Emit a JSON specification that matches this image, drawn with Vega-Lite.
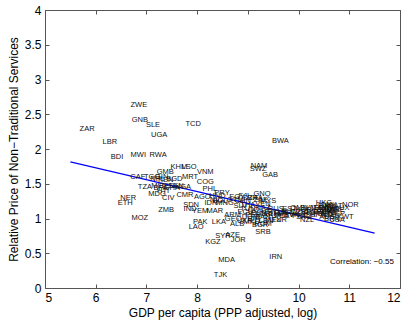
{
  "$schema": "https://vega.github.io/schema/vega-lite/v6.json",
  "width": 355,
  "height": 278,
  "autosize": {"type": "none"},
  "padding": {"left": 45, "top": 10, "right": 8, "bottom": 32},
  "background": "white",
  "config": {
    "view": {"stroke": "#555", "strokeWidth": 1},
    "font": "Liberation Sans",
    "axis": {
      "grid": false,
      "domainColor": "#555",
      "tickColor": "#555",
      "labelColor": "#000",
      "titleColor": "#000",
      "labelFont": "Liberation Sans",
      "titleFont": "Liberation Sans",
      "labelFontSize": 12,
      "titleFontSize": 12,
      "titleFontWeight": "normal",
      "tickSize": -4,
      "labelPadding": 8
    }
  },
  "datasets": {
    "countries": [
      {"iso": "ZWE", "gdp": 6.85, "price": 2.64},
      {"iso": "GNB", "gdp": 6.87, "price": 2.42},
      {"iso": "SLE", "gdp": 7.13, "price": 2.35},
      {"iso": "UGA", "gdp": 7.25, "price": 2.20},
      {"iso": "TCD", "gdp": 7.92, "price": 2.36},
      {"iso": "ZAR", "gdp": 5.83, "price": 2.29},
      {"iso": "LBR", "gdp": 6.28, "price": 2.10},
      {"iso": "BDI", "gdp": 6.42, "price": 1.89},
      {"iso": "MWI", "gdp": 6.84, "price": 1.92},
      {"iso": "RWA", "gdp": 7.23, "price": 1.92},
      {"iso": "BWA", "gdp": 9.64, "price": 2.12},
      {"iso": "NAM", "gdp": 9.22, "price": 1.76},
      {"iso": "SWZ", "gdp": 9.20, "price": 1.71},
      {"iso": "GAB", "gdp": 9.44, "price": 1.62},
      {"iso": "KHM", "gdp": 7.64, "price": 1.74},
      {"iso": "LSO", "gdp": 7.84, "price": 1.74},
      {"iso": "VNM", "gdp": 8.16, "price": 1.67},
      {"iso": "MRT", "gdp": 7.86, "price": 1.60},
      {"iso": "COG", "gdp": 8.16, "price": 1.53},
      {"iso": "GMB", "gdp": 7.37, "price": 1.67},
      {"iso": "CAF", "gdp": 6.83, "price": 1.60},
      {"iso": "TGO", "gdp": 7.11, "price": 1.60},
      {"iso": "GIN", "gdp": 7.30, "price": 1.60},
      {"iso": "NPL", "gdp": 7.22, "price": 1.57},
      {"iso": "KEN", "gdp": 7.38, "price": 1.56},
      {"iso": "BGD", "gdp": 7.55, "price": 1.57},
      {"iso": "TZA", "gdp": 6.97, "price": 1.46},
      {"iso": "MLI", "gdp": 7.22, "price": 1.47},
      {"iso": "BFA", "gdp": 7.28, "price": 1.44},
      {"iso": "BEN", "gdp": 7.40, "price": 1.47},
      {"iso": "HTI", "gdp": 7.33, "price": 1.40},
      {"iso": "GHA", "gdp": 7.50, "price": 1.44},
      {"iso": "SEN", "gdp": 7.58, "price": 1.47},
      {"iso": "NGA", "gdp": 7.72, "price": 1.46},
      {"iso": "MDG", "gdp": 7.21, "price": 1.35},
      {"iso": "CIV", "gdp": 7.43, "price": 1.30},
      {"iso": "CMR", "gdp": 7.76, "price": 1.34},
      {"iso": "AGO", "gdp": 8.10, "price": 1.31},
      {"iso": "NER", "gdp": 6.64, "price": 1.30},
      {"iso": "ETH", "gdp": 6.58, "price": 1.22},
      {"iso": "ZMB", "gdp": 7.39, "price": 1.12},
      {"iso": "MOZ", "gdp": 6.87, "price": 1.01},
      {"iso": "SDN", "gdp": 7.88, "price": 1.20},
      {"iso": "IND", "gdp": 7.86, "price": 1.14},
      {"iso": "YEM", "gdp": 8.06, "price": 1.11},
      {"iso": "MAR", "gdp": 8.35, "price": 1.11},
      {"iso": "IDN", "gdp": 8.27, "price": 1.22},
      {"iso": "PHL", "gdp": 8.25, "price": 1.43},
      {"iso": "BOL", "gdp": 8.45, "price": 1.25},
      {"iso": "PRY", "gdp": 8.49, "price": 1.37},
      {"iso": "HND", "gdp": 8.40, "price": 1.33},
      {"iso": "NIC", "gdp": 8.38, "price": 1.26},
      {"iso": "MNG", "gdp": 8.55, "price": 1.22},
      {"iso": "GTM", "gdp": 8.75, "price": 1.27},
      {"iso": "EGY", "gdp": 8.79, "price": 1.31},
      {"iso": "SLV", "gdp": 8.85, "price": 1.18},
      {"iso": "FJI", "gdp": 8.92, "price": 1.33},
      {"iso": "CHN", "gdp": 8.90, "price": 1.25},
      {"iso": "THA", "gdp": 9.00, "price": 1.20},
      {"iso": "TUN", "gdp": 9.00, "price": 1.14},
      {"iso": "DZA", "gdp": 9.05, "price": 1.30},
      {"iso": "ECU", "gdp": 8.95, "price": 1.09},
      {"iso": "ARM", "gdp": 8.70, "price": 1.05},
      {"iso": "PER", "gdp": 9.10, "price": 1.05},
      {"iso": "COL", "gdp": 9.15, "price": 1.12},
      {"iso": "DOM", "gdp": 9.05, "price": 1.02},
      {"iso": "BIH", "gdp": 9.12, "price": 0.99},
      {"iso": "MKD", "gdp": 9.08, "price": 0.95},
      {"iso": "BRA", "gdp": 9.14, "price": 1.30},
      {"iso": "KAZ", "gdp": 9.30, "price": 1.15},
      {"iso": "VEN", "gdp": 9.30, "price": 1.21},
      {"iso": "BLR", "gdp": 9.22, "price": 1.08},
      {"iso": "ZAF", "gdp": 9.25, "price": 1.26},
      {"iso": "GNQ", "gdp": 9.28, "price": 1.35},
      {"iso": "CRI", "gdp": 9.36, "price": 1.07},
      {"iso": "PAN", "gdp": 9.30, "price": 1.02},
      {"iso": "URY", "gdp": 9.42, "price": 1.10},
      {"iso": "ARG", "gdp": 9.46, "price": 1.05},
      {"iso": "MYS", "gdp": 9.40, "price": 1.25},
      {"iso": "LBN", "gdp": 9.36, "price": 0.97},
      {"iso": "BGR", "gdp": 9.24, "price": 0.90},
      {"iso": "RUS", "gdp": 9.55, "price": 1.13},
      {"iso": "CHL", "gdp": 9.55, "price": 1.07},
      {"iso": "TUR", "gdp": 9.62, "price": 0.98},
      {"iso": "MEX", "gdp": 9.50, "price": 0.98},
      {"iso": "LVA", "gdp": 9.65, "price": 1.08},
      {"iso": "LTU", "gdp": 9.72, "price": 1.10},
      {"iso": "POL", "gdp": 9.68, "price": 1.03},
      {"iso": "HRV", "gdp": 9.76, "price": 1.05},
      {"iso": "HUN", "gdp": 9.82, "price": 1.10},
      {"iso": "SVK", "gdp": 9.86, "price": 1.05},
      {"iso": "EST", "gdp": 9.82, "price": 1.13},
      {"iso": "GEO", "gdp": 8.71, "price": 0.99},
      {"iso": "UKR", "gdp": 8.94, "price": 0.97},
      {"iso": "ALB", "gdp": 8.79, "price": 0.92},
      {"iso": "PAK", "gdp": 8.06, "price": 0.95},
      {"iso": "LAO", "gdp": 7.98, "price": 0.88},
      {"iso": "LKA", "gdp": 8.43, "price": 0.95},
      {"iso": "SYR", "gdp": 8.51, "price": 0.75},
      {"iso": "AZE", "gdp": 8.70, "price": 0.76},
      {"iso": "JOR", "gdp": 8.81, "price": 0.69},
      {"iso": "KGZ", "gdp": 8.31, "price": 0.66},
      {"iso": "MDA", "gdp": 8.58, "price": 0.40},
      {"iso": "TJK", "gdp": 8.46, "price": 0.19},
      {"iso": "IRN", "gdp": 9.55, "price": 0.45},
      {"iso": "ROM", "gdp": 9.30, "price": 0.92},
      {"iso": "SRB", "gdp": 9.30, "price": 0.81},
      {"iso": "CZE", "gdp": 10.00, "price": 1.10},
      {"iso": "PRT", "gdp": 10.02, "price": 1.04},
      {"iso": "OMN", "gdp": 10.01, "price": 1.15},
      {"iso": "SAU", "gdp": 10.10, "price": 1.02},
      {"iso": "GRC", "gdp": 10.15, "price": 1.08},
      {"iso": "KOR", "gdp": 10.10, "price": 1.12},
      {"iso": "SVN", "gdp": 10.18, "price": 1.15},
      {"iso": "ISR", "gdp": 10.22, "price": 1.05},
      {"iso": "CYP", "gdp": 10.24, "price": 1.10},
      {"iso": "NZL", "gdp": 10.17, "price": 0.98},
      {"iso": "ESP", "gdp": 10.30, "price": 1.10},
      {"iso": "ITA", "gdp": 10.36, "price": 1.15},
      {"iso": "JPN", "gdp": 10.40, "price": 1.05},
      {"iso": "FRA", "gdp": 10.45, "price": 1.15},
      {"iso": "GBR", "gdp": 10.46, "price": 1.10},
      {"iso": "DEU", "gdp": 10.50, "price": 1.12},
      {"iso": "FIN", "gdp": 10.50, "price": 1.18},
      {"iso": "BEL", "gdp": 10.52, "price": 1.07},
      {"iso": "SWE", "gdp": 10.55, "price": 1.15},
      {"iso": "AUT", "gdp": 10.60, "price": 1.12},
      {"iso": "DNK", "gdp": 10.60, "price": 1.20},
      {"iso": "NLD", "gdp": 10.60, "price": 1.05},
      {"iso": "CAN", "gdp": 10.62, "price": 1.10},
      {"iso": "AUS", "gdp": 10.56, "price": 1.02},
      {"iso": "ISL", "gdp": 10.62, "price": 1.16},
      {"iso": "IRL", "gdp": 10.66, "price": 1.08},
      {"iso": "CHE", "gdp": 10.66, "price": 1.13},
      {"iso": "HKG", "gdp": 10.50, "price": 1.22},
      {"iso": "QAT", "gdp": 10.72, "price": 1.18},
      {"iso": "SGP", "gdp": 10.76, "price": 1.06},
      {"iso": "ARE", "gdp": 10.76, "price": 1.12},
      {"iso": "BRN", "gdp": 10.66, "price": 1.00},
      {"iso": "LUX", "gdp": 10.86, "price": 1.15},
      {"iso": "NOR", "gdp": 11.02, "price": 1.20},
      {"iso": "KWT", "gdp": 10.92, "price": 1.02},
      {"iso": "USA", "gdp": 10.76, "price": 0.98}
    ],
    "fit": [
      {"gdp": 5.5, "price": 1.815},
      {"gdp": 11.5, "price": 0.79}
    ],
    "note": [
      {"gdp": 11.88, "price": 0.37, "label": "Correlation: −0.55"}
    ]
  },
  "layer": [
    {
      "data": {"name": "fit"},
      "mark": {"type": "line", "color": "#0000ff", "strokeWidth": 1.2},
      "encoding": {
        "x": {"field": "gdp", "type": "quantitative",
              "scale": {"domain": [5, 12], "nice": false, "zero": false},
              "axis": {"orient": "top", "labels": false, "title": null, "domain": false, "values": [5,6,7,8,9,10,11,12]}},
        "y": {"field": "price", "type": "quantitative",
              "scale": {"domain": [0, 4], "nice": false, "zero": false},
              "axis": {"orient": "right", "labels": false, "title": null, "domain": false, "values": [0,0.5,1,1.5,2,2.5,3,3.5,4]}}
      }
    },
    {
      "data": {"name": "countries"},
      "mark": {"type": "text", "fontSize": 7.5, "font": "Liberation Sans", "color": "#111", "align": "center", "baseline": "middle"},
      "encoding": {
        "x": {"field": "gdp", "type": "quantitative",
              "axis": {"orient": "bottom", "title": "GDP per capita (PPP adjusted, log)", "values": [5,6,7,8,9,10,11,12], "titlePadding": 4, "domain": false}},
        "y": {"field": "price", "type": "quantitative",
              "axis": {"orient": "left", "title": "Relative Price of Non−Traditional Services", "values": [0,0.5,1,1.5,2,2.5,3,3.5,4], "format": "~g", "titlePadding": 4, "domain": false}},
        "text": {"field": "iso"}
      }
    },
    {
      "data": {"name": "note"},
      "mark": {"type": "text", "fontSize": 8, "font": "Liberation Sans", "color": "#000", "align": "right", "baseline": "middle"},
      "encoding": {
        "x": {"field": "gdp", "type": "quantitative", "axis": null},
        "y": {"field": "price", "type": "quantitative", "axis": null},
        "text": {"field": "label"}
      }
    }
  ],
  "resolve": {"axis": {"x": "independent", "y": "independent"}}
}
